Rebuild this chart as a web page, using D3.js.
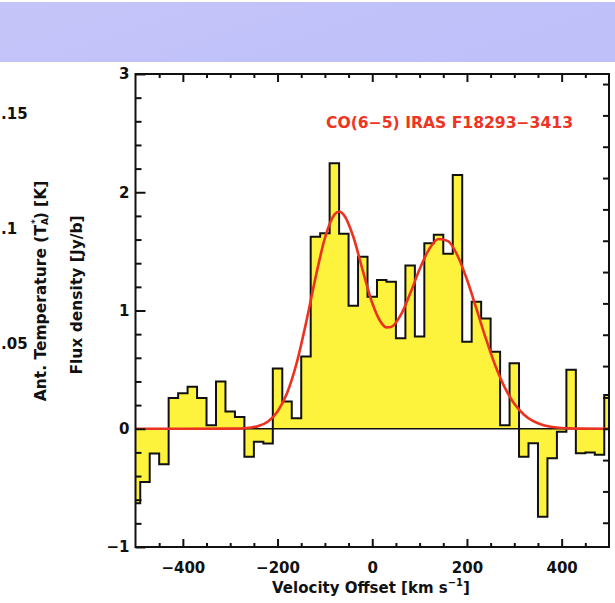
<!DOCTYPE html>
<html>
<head>
<meta charset="utf-8">
<script src="https://cdn.jsdelivr.net/npm/d3@7"></script>
<style>
  body { margin: 0; background: #fff; }
  svg { display: block; }
  text { font-family: "DejaVu Sans", sans-serif; font-weight: bold; }
</style>
</head>
<body>
<svg id="chart" width="615" height="603"></svg>
<script>
// CO(6-5) spectrum of IRAS F18293-3413: channel centres (km/s) and flux density (Jy/beam)
const channelVelocity = [
  -500, -480, -460, -440, -420, -400, -380, -360, -340, -320,
  -300, -280, -260, -240, -220, -200, -180, -160, -140, -120,
  -100,  -80,  -60,  -40,  -20,    0,   20,   40,   60,   80,
   100,  120,  140,  160,  180,  200,  220,  240,  260,  280,
   300,  320,  340,  360,  380,  400,  420,  440,  460,  480, 500
];
const channelFlux = [
  -0.63, -0.45, -0.21, -0.30, 0.26, 0.30, 0.355, 0.26, 0.03, 0.40,
  0.145, 0.10, -0.236, -0.11, -0.125, 0.51, 0.23, 0.088, 0.61, 1.624,
  1.653, 2.245, 1.65, 1.04, 1.455, 1.117, 1.258, 1.244, 0.765, 1.38,
  0.78, 1.568, 1.64, 1.48, 2.146, 0.736, 1.074, 0.933, 0.651, 0.03,
  0.553, -0.236, -0.123, -0.744, -0.25, -0.025, 0.50, -0.208, -0.20, -0.22, 0.286
];

// Double-peaked line fit, sampled along the velocity axis
const fitVelocity = [
  -500, -300, -280, -260, -240, -220, -200, -180, -160, -140,
  -120, -100, -80, -70, -60, -40, -20, 0, 20, 30,
  40, 60, 80, 100, 120, 140, 160, 180, 200, 220,
  240, 260, 280, 300, 320, 340, 360, 380, 400, 420, 440, 500
];
const fitFlux = [
  0, 0.001, 0.002, 0.008, 0.024, 0.062, 0.146, 0.300, 0.550, 0.892,
  1.274, 1.612, 1.811, 1.837, 1.809, 1.624, 1.338, 1.063, 0.891, 0.857,
  0.861, 0.960, 1.143, 1.349, 1.517, 1.605, 1.587, 1.465, 1.262, 1.015,
  0.762, 0.533, 0.348, 0.212, 0.121, 0.064, 0.032, 0.015, 0.006, 0.003, 0.001, 0
];

const xTicks = [-400, -200, 0, 200, 400];
const yTicks = [-1, 0, 1, 2, 3];
// antenna temperature labels of the neighbouring scale (K)
const taLabels = [0.15, 0.1, 0.05];
const jyPerK = 26.5;   // conversion used for the right-hand T_A* ticks
const lineLabel = "CO(6\u22125) IRAS F18293\u22123413";

const svg = d3.select("#chart");

// header band
const defs = svg.append("defs");
const grad = defs.append("linearGradient").attr("id", "band")
  .attr("x1", "0%").attr("x2", "100%").attr("y1", "0%").attr("y2", "30%");
grad.append("stop").attr("offset", "0%").attr("stop-color", "#c5c5f9");
grad.append("stop").attr("offset", "100%").attr("stop-color", "#bfbffa");
svg.append("rect").attr("x", 0).attr("y", 2).attr("width", 615).attr("height", 60)
  .attr("fill", "url(#band)");

const frame = { left: 135.5, right: 609, top: 74, bottom: 547 };

const x = d3.scaleLinear().domain([-500, 500]).range([frame.left, frame.right]);
const y = d3.scaleLinear().domain([-1, 3]).range([frame.bottom, frame.top]);
const yTa = d3.scaleLinear().domain([-1 / jyPerK, 3 / jyPerK]).range([frame.bottom, frame.top]);

const plot = svg.append("g");

// filled histogram
const area = d3.area()
  .curve(d3.curveStep)
  .x((d, i) => x(channelVelocity[i]))
  .y0(y(0))
  .y1(d => y(d));
plot.append("path").datum(channelFlux)
  .attr("d", area)
  .attr("fill", "#fdf33c");

// zero level
plot.append("line")
  .attr("x1", x(-500)).attr("x2", x(500))
  .attr("y1", y(0)).attr("y2", y(0))
  .attr("stroke", "#111").attr("stroke-width", 1.6);

// histogram outline
const step = d3.line()
  .curve(d3.curveStep)
  .x((d, i) => x(channelVelocity[i]))
  .y(d => y(d));
plot.append("path").datum(channelFlux)
  .attr("d", step)
  .attr("fill", "none")
  .attr("stroke", "#111")
  .attr("stroke-width", 2)
  .attr("stroke-linejoin", "miter");

// fit
const fitLine = d3.line()
  .curve(d3.curveMonotoneX)
  .x((d, i) => x(fitVelocity[i]))
  .y(d => y(d));
plot.append("path").datum(fitFlux)
  .attr("d", fitLine)
  .attr("fill", "none")
  .attr("stroke", "#ec3220")
  .attr("stroke-width", 2.6);

// axes
const tickFont = 15;
function styleAxis(g) {
  g.select(".domain").remove();
  g.selectAll(".tick line").attr("stroke", "#111").attr("stroke-width", 2);
  g.selectAll(".tick text").attr("fill", "#111").attr("font-size", tickFont)
    .attr("font-family", "DejaVu Sans").attr("font-weight", "bold");
}

const xMinor = d3.range(-450, 500, 50).filter(v => !xTicks.includes(v));
const yMinor = d3.range(-0.8, 3, 0.2).map(v => +v.toFixed(1)).filter(v => !yTicks.includes(v));

svg.append("g").attr("transform", `translate(0,${frame.bottom})`)
  .call(d3.axisBottom(x).tickValues(xTicks).tickSize(-8).tickPadding(15)).call(styleAxis);
svg.append("g").attr("transform", `translate(0,${frame.bottom})`)
  .call(d3.axisBottom(x).tickValues(xMinor).tickSize(-4).tickFormat("")).call(styleAxis);
svg.append("g").attr("transform", `translate(0,${frame.top})`)
  .call(d3.axisTop(x).tickValues(xTicks).tickSize(-8).tickFormat("")).call(styleAxis);
svg.append("g").attr("transform", `translate(0,${frame.top})`)
  .call(d3.axisTop(x).tickValues(xMinor).tickSize(-4).tickFormat("")).call(styleAxis);

svg.append("g").attr("transform", `translate(${frame.left},0)`)
  .call(d3.axisLeft(y).tickValues(yTicks).tickSize(-10).tickPadding(6).tickFormat(d3.format("d")))
  .call(styleAxis);
svg.append("g").attr("transform", `translate(${frame.left},0)`)
  .call(d3.axisLeft(y).tickValues(yMinor).tickSize(-6).tickFormat("")).call(styleAxis);

const taTicks = d3.range(-3, 12).map(k => k / 100);
svg.append("g").attr("transform", `translate(${frame.right},0)`)
  .call(d3.axisRight(yTa).tickValues(taTicks).tickSize(-6).tickFormat("")).call(styleAxis);

// frame
svg.append("rect")
  .attr("x", frame.left).attr("y", frame.top)
  .attr("width", frame.right - frame.left).attr("height", frame.bottom - frame.top)
  .attr("fill", "none").attr("stroke", "#111").attr("stroke-width", 2);

// line label
svg.append("text")
  .attr("x", 326).attr("y", 128)
  .attr("fill", "#ee3422").attr("font-size", 15.5)
  .attr("textLength", 247).attr("lengthAdjust", "spacingAndGlyphs")
  .text(lineLabel);

// x-axis title
const xt = svg.append("text")
  .attr("x", 371).attr("y", 593)
  .attr("text-anchor", "middle").attr("font-size", 15).attr("fill", "#111");
xt.append("tspan").text("Velocity Offset [km s");
xt.append("tspan").attr("font-size", 10).attr("dy", -7).text("\u22121");
xt.append("tspan").attr("dy", 7).text("]");

// y-axis titles
svg.append("text")
  .attr("transform", "translate(77,295) rotate(-90)")
  .attr("text-anchor", "middle").attr("dominant-baseline", "central")
  .attr("font-size", 15.5).attr("fill", "#111")
  .text("Flux density [Jy/b]");

const ta = svg.append("text")
  .attr("transform", "translate(41,291) rotate(-90)")
  .attr("text-anchor", "middle").attr("dominant-baseline", "central")
  .attr("font-size", 15.5).attr("fill", "#111");
ta.append("tspan").text("Ant. Temperature (T");
ta.append("tspan").attr("font-size", 9).attr("dy", 4).text("A");
ta.append("tspan").attr("font-size", 9).attr("dx", -6).attr("dy", -10).text("*");
ta.append("tspan").attr("dy", 6).text(") [K]");

// neighbouring temperature scale labels (leading zero dropped)
const taLeft = d3.scaleLinear().domain([0.05, 0.15]).range([344, 114]);
svg.append("g").selectAll("text").data(taLabels).join("text")
  .attr("x", 1).attr("y", d => taLeft(d))
  .attr("dy", "0.35em").attr("font-size", tickFont).attr("fill", "#111")
  .text(d => d3.format(".2~f")(d).replace(/^0/, ""));
</script>
</body>
</html>
